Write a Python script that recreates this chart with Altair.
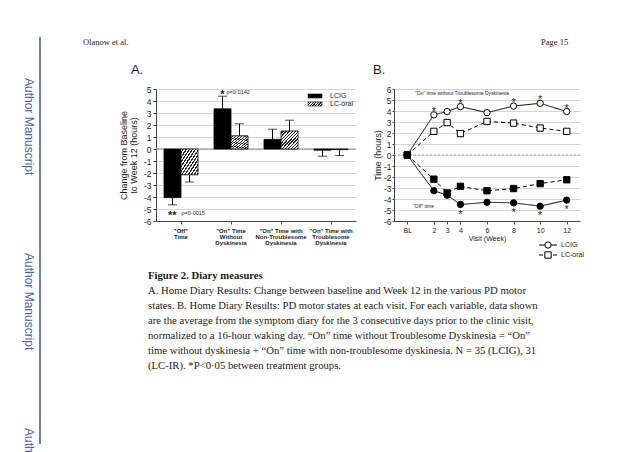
import altair as alt
import pandas as pd

# ---------------- Panel A values ----------------
a_categories = ['"Off"|Time', '"On" Time|Without|Dyskinesia',
                '"On" Time with|Non-Troublesome|Dyskinesia',
                '"On" Time with|Troublesome|Dyskinesia']
a_groups = ['LCIG', 'LC-oral']
a_lcig = [-4.05, 3.35, 0.8, -0.1]
a_lcig_err = [0.6, 1.05, 0.85, 0.5]
a_oral = [-2.15, 1.1, 1.5, -0.05]
a_oral_err = [0.6, 1.0, 0.9, 0.5]
a_stars = ['**', '*', '', '']
a_pvals = ['p=0·0015', 'p=0·0142', '', '']
a_ticks = list(range(-6, 6))

# ---------------- Panel B values ----------------
b_weeks = [0, 2, 3, 4, 6, 8, 10, 12]
b_lcig_on = [0, 3.65, 3.95, 4.4, 3.85, 4.45, 4.7, 3.95]
b_oral_on = [0, 2.15, 2.95, 1.95, 3.05, 2.9, 2.45, 2.15]
b_lcig_off = [0, -3.25, -3.65, -4.5, -4.3, -4.35, -4.65, -4.1]
b_oral_off = [0, -2.2, -3.45, -2.85, -3.25, -3.05, -2.6, -2.25]
b_sig_on_weeks = [2, 4, 8, 10, 12]
b_sig_off_weeks = [4, 8, 10, 12]
b_ticks = list(range(-6, 7))

# ---------------- Page texts ----------------
header_left = 'Olanow et al.'
header_right = 'Page 15'
side_text = 'Author Manuscript'
caption_title = 'Figure 2. Diary measures'
caption_lines = [
    'A. Home Diary Results: Change between baseline and Week 12 in the various PD motor',
    'states. B. Home Diary Results: PD motor states at each visit. For each variable, data shown',
    'are the average from the symptom diary for the 3 consecutive days prior to the clinic visit,',
    'normalized to a 16-hour waking day. \u201cOn\u201d time without Troublesome Dyskinesia = \u201cOn\u201d',
    'time without dyskinesia + \u201cOn\u201d time with non-troublesome dyskinesia. N = 35 (LCIG), 31',
    '(LC-IR). *P<0\u00b705 between treatment groups.',
]

SANS = 'Liberation Sans'
SERIF = 'Liberation Serif'
INK = '#1c1c1c'
AX = '#444444'
GRID = '#d6d6d6'

# ---------------- data frames ----------------
rows = []
for i, c in enumerate(a_categories):
    for g, vals, errs in (('LCIG', a_lcig, a_lcig_err), ('LC-oral', a_oral, a_oral_err)):
        v, e = vals[i], errs[i]
        end = v + e if v >= 0 else v - e
        star = a_stars[i] if g == 'LCIG' else ''
        pv = a_pvals[i] if g == 'LCIG' else ''
        rows.append(dict(cat=c, group=g, value=v, end=end, star=star, pv=pv))
df_a = pd.DataFrame(rows)

series_rows = []
order = 0
for treat, state, vals in (('LCIG', 'on', b_lcig_on), ('LC-oral', 'on', b_oral_on),
                           ('LCIG', 'off', b_lcig_off), ('LC-oral', 'off', b_oral_off)):
    for w, v in zip(b_weeks, vals):
        series_rows.append(dict(week=w, value=v, treatment=treat, state=state,
                                series=treat + state, ord=order))
        order += 1
df_b = pd.DataFrame(series_rows)
df_star_on = df_b[(df_b.series == 'LCIGon') & df_b.week.isin(b_sig_on_weeks)]
df_star_off = df_b[(df_b.series == 'LCIGoff') & df_b.week.isin(b_sig_off_weeks)]

one = pd.DataFrame({'k': [0]})

# hatch fill as striped gradient
N = 11
stops = []
for i in range(N):
    a, b, c = i / N, (i + 0.55) / N, (i + 1) / N
    stops += [{'offset': a, 'color': '#f2f2f2'}, {'offset': b, 'color': '#f2f2f2'},
              {'offset': b, 'color': '#2a2a2a'}, {'offset': c, 'color': '#2a2a2a'}]
hatch = {'gradient': 'linear', 'x1': 0, 'y1': 0, 'x2': 1, 'y2': 1, 'stops': stops}


def const_text(text, x, y, **kw):
    return alt.Chart(one).mark_text(text=text, **kw).encode(x=alt.value(x), y=alt.value(y))


# ---------------- Panel A ----------------
xs_a = alt.Scale(domain=a_categories, paddingInner=0.32, paddingOuter=0.16)
ys_a = alt.Scale(domain=[-6, 5], nice=False, zero=False)
off_a = alt.XOffset('group:N', scale=alt.Scale(domain=a_groups, paddingInner=0, paddingOuter=0))

axis_xa = alt.Axis(labelExpr="split(datum.label, '|')", labelAngle=0, labelFontSize=6,
                   labelFontWeight='bold', labelLineHeight=6.3, labelPadding=3,
                   tickSize=3, tickColor=AX, domainColor=AX, labelColor=INK,
                   labelFont=SANS, grid=False)
axis_ya = alt.Axis(values=a_ticks, labelExpr='datum.value', grid=True, gridColor=GRID,
                   tickSize=3, labelPadding=2, labelFontSize=8.5, labelColor=INK,
                   labelFont=SANS, tickColor=AX, domainColor=AX,
                   titleFont=SANS, titleFontSize=9, titleFontWeight='normal',
                   titleColor=INK, titleLineHeight=10, titleX=-33, titleY=66,
                   titleAlign='center', titleBaseline='middle')
YA_TITLE = ['Change from Baseline', 'to Week 12 (hours)']


def XA():
    return alt.X('cat:N', scale=xs_a, title=None, axis=axis_xa)


def YA(field):
    return alt.Y(field, scale=ys_a, title=YA_TITLE, axis=axis_ya)


bars_lcig = alt.Chart(df_a).transform_filter("datum.group == 'LCIG'").mark_bar(
    fill='black', stroke='black', strokeWidth=0.8).encode(x=XA(), xOffset=off_a, y=YA('value:Q'))
bars_oral = alt.Chart(df_a).transform_filter("datum.group == 'LC-oral'").mark_bar(
    fill=hatch, stroke='black', strokeWidth=0.8).encode(x=XA(), xOffset=off_a, y=YA('value:Q'))
zero_a = alt.Chart(pd.DataFrame({'value': [0]})).mark_rule(color='#8a8a8a', strokeWidth=1).encode(
    y=YA('value:Q'))
err_a = alt.Chart(df_a).mark_rule(color='black', strokeWidth=1).encode(
    x=XA(), xOffset=off_a, y=YA('value:Q'), y2='end:Q')
cap_a = alt.Chart(df_a).mark_tick(color='black', orient='horizontal', size=9, thickness=1).encode(
    x=XA(), xOffset=off_a, y=YA('end:Q'))
star_up = alt.Chart(df_a).transform_filter("datum.star != '' && datum.value > 0").mark_text(
    fontSize=11, fontWeight='bold', font=SANS, color=INK, baseline='alphabetic', dy=2).encode(
    x=XA(), xOffset=off_a, y=YA('end:Q'), text='star:N')
pv_up = alt.Chart(df_a).transform_filter("datum.pv != '' && datum.value > 0").mark_text(
    fontSize=5.5, font=SANS, color=INK, align='left', baseline='middle', dx=4, dy=-4).encode(
    x=XA(), xOffset=off_a, y=YA('end:Q'), text='pv:N')
star_dn = alt.Chart(df_a).transform_filter("datum.star != '' && datum.value < 0").mark_text(
    fontSize=11, fontWeight='bold', font=SANS, color=INK, align='left', baseline='alphabetic',
    dx=-4.5, dy=14.5).encode(x=XA(), xOffset=off_a, y=YA('end:Q'), text='star:N')
pv_dn = alt.Chart(df_a).transform_filter("datum.pv != '' && datum.value < 0").mark_text(
    fontSize=5.5, font=SANS, color=INK, align='left', baseline='middle', dx=9, dy=8).encode(
    x=XA(), xOffset=off_a, y=YA('end:Q'), text='pv:N')

# legend A
leg_a = [
    alt.Chart(one).mark_rect(fill='black', stroke='black', strokeWidth=0.6).encode(
        x=alt.value(152), x2=alt.value(166), y=alt.value(5), y2=alt.value(9)),
    alt.Chart(one).mark_rect(fill=hatch, stroke='black', strokeWidth=0.6).encode(
        x=alt.value(152), x2=alt.value(166), y=alt.value(13), y2=alt.value(17)),
    const_text('LCIG', 174, 7, fontSize=7, font=SANS, color=INK, align='left', baseline='middle'),
    const_text('LC-oral', 174, 15, fontSize=7, font=SANS, color=INK, align='left', baseline='middle'),
]

# page elements (positioned relative to panel A's plot origin)
page = [
    alt.Chart(one).mark_rect(opacity=0).encode(
        x=alt.value(-148), x2=alt.value(476), y=alt.value(-81), y2=alt.value(355)),
    alt.Chart(one).mark_rule(color='#2d4b8a', strokeWidth=1.4).encode(
        x=alt.value(-116), y=alt.value(-52), y2=alt.value(355)),
    const_text(side_text, -127, -11, angle=90, align='left', baseline='middle', fontSize=12,
               font=SANS, color='#4866a6'),
    const_text(side_text, -127, 164, angle=90, align='left', baseline='middle', fontSize=12,
               font=SANS, color='#4866a6'),
    const_text('Auth', -127, 339, angle=90, align='left', baseline='middle', fontSize=12,
               font=SANS, color='#4866a6'),
    const_text(header_left, -73, -47, align='left', baseline='middle', fontSize=8.5,
               font=SERIF, color=INK),
    const_text(header_right, 385, -47, align='left', baseline='middle', fontSize=8.5,
               font=SERIF, color=INK),
    const_text('A.', -25, -19, align='left', baseline='middle', fontSize=13, font=SANS, color=INK),
    const_text(caption_title, -8, 187, align='left', baseline='middle', fontSize=10.7,
               fontWeight='bold', font=SERIF, color=INK),
    const_text(caption_lines, -8, 202, align='left', baseline='middle', fontSize=10.7,
               lineHeight=15, font=SERIF, color=INK),
]

chart_a = alt.layer(zero_a, bars_lcig, bars_oral, err_a, cap_a, star_up, pv_up, star_dn, pv_dn,
                    *leg_a, *page).properties(width=200, height=132)

# ---------------- Panel B ----------------
xs_b = alt.Scale(domain=[-1, 13], nice=False, zero=False)
ys_b = alt.Scale(domain=[-6, 6], nice=False, zero=False)
axis_xb = alt.Axis(values=b_weeks, labelExpr="datum.value == 0 ? 'BL' : datum.value",
                   grid=False, tickSize=3, labelPadding=2, labelFontSize=7,
                   labelFont=SANS, labelColor=INK, tickColor=AX, domainColor=AX,
                   titleFont=SANS, titleFontSize=7, titleFontWeight='normal',
                   titleColor=INK, titlePadding=1)
axis_yb = alt.Axis(values=b_ticks, labelExpr='datum.value', grid=True, gridColor=GRID,
                   tickSize=2, labelPadding=1, labelFontSize=8.5, labelFont=SANS,
                   labelColor=INK, tickColor=AX, domainColor=AX,
                   titleFont=SANS, titleFontSize=9, titleFontWeight='normal',
                   titleColor=INK, titleX=-17, titleY=66, titleAlign='center',
                   titleBaseline='middle')


def XB():
    return alt.X('week:Q', scale=xs_b, title='Visit (Week)', axis=axis_xb)


def YB():
    return alt.Y('value:Q', scale=ys_b, title='Time (hours)', axis=axis_yb)


zero_b = alt.Chart(pd.DataFrame({'value': [0]})).mark_rule(
    color='#a8a8a8', strokeWidth=1, strokeDash=[2, 2]).encode(y=YB())
lines_b = alt.Chart(df_b).mark_line(color='black', strokeWidth=1).encode(
    x=XB(), y=YB(), detail='series:N',
    strokeDash=alt.StrokeDash('treatment:N', scale=alt.Scale(domain=['LCIG', 'LC-oral'],
                                                            range=[[1, 0], [4, 3]]), legend=None))
points_b = alt.Chart(df_b).mark_point(filled=True, stroke='black', strokeWidth=1, opacity=1,
                                      size=40).encode(
    x=XB(), y=YB(),
    shape=alt.Shape('treatment:N', scale=alt.Scale(domain=['LCIG', 'LC-oral'],
                                                    range=['circle', 'square']), legend=None),
    fill=alt.Fill('state:N', scale=alt.Scale(domain=['on', 'off'], range=['white', 'black']),
                  legend=None),
    order=alt.Order('ord:Q'))
stars_on = alt.Chart(df_star_on).mark_text(text='*', fontSize=11, font=SANS, color=INK,
                                           baseline='alphabetic', dy=0).encode(x=XB(), y=YB())
stars_off = alt.Chart(df_star_off).mark_text(text='*', fontSize=11, font=SANS, color=INK,
                                             baseline='alphabetic', dy=13).encode(x=XB(), y=YB())

leg_b = [
    alt.Chart(one).mark_rule(color='black', strokeWidth=1).encode(
        x=alt.value(145), x2=alt.value(163), y=alt.value(156)),
    alt.Chart(one).mark_point(shape='circle', filled=True, fill='white', stroke='black',
                              strokeWidth=1, opacity=1, size=40).encode(
        x=alt.value(154), y=alt.value(156)),
    alt.Chart(one).mark_rule(color='black', strokeWidth=1, strokeDash=[4, 3]).encode(
        x=alt.value(145), x2=alt.value(163), y=alt.value(166)),
    alt.Chart(one).mark_point(shape='square', filled=True, fill='white', stroke='black',
                              strokeWidth=1, opacity=1, size=40).encode(
        x=alt.value(154), y=alt.value(166)),
    const_text('LCIG', 167, 156, fontSize=7, font=SANS, color=INK, align='left', baseline='middle'),
    const_text('LC-oral', 167, 166, fontSize=7, font=SANS, color=INK, align='left', baseline='middle'),
]
notes_b = [
    const_text('B.', -21, -19, align='left', baseline='middle', fontSize=13, font=SANS, color=INK),
    const_text('"On" time without Troublesome Dyskinesia', 21, 4, align='left', baseline='middle',
               fontSize=5, font=SANS, color=INK),
    const_text('"Off" time', 19, 117, align='left', baseline='middle', fontSize=5, font=SANS,
               color=INK),
]

chart_b = alt.layer(zero_b, lines_b, points_b, stars_on, stars_off, *leg_b, *notes_b).properties(
    width=186, height=132)

chart = alt.hconcat(chart_a, chart_b, spacing=38, bounds='flush').properties(
    padding={'left': 0, 'top': 0, 'right': 0, 'bottom': 0}
).configure_view(stroke=None)

chart.save('out.html', embed_options={'renderer': 'svg', 'actions': False})
